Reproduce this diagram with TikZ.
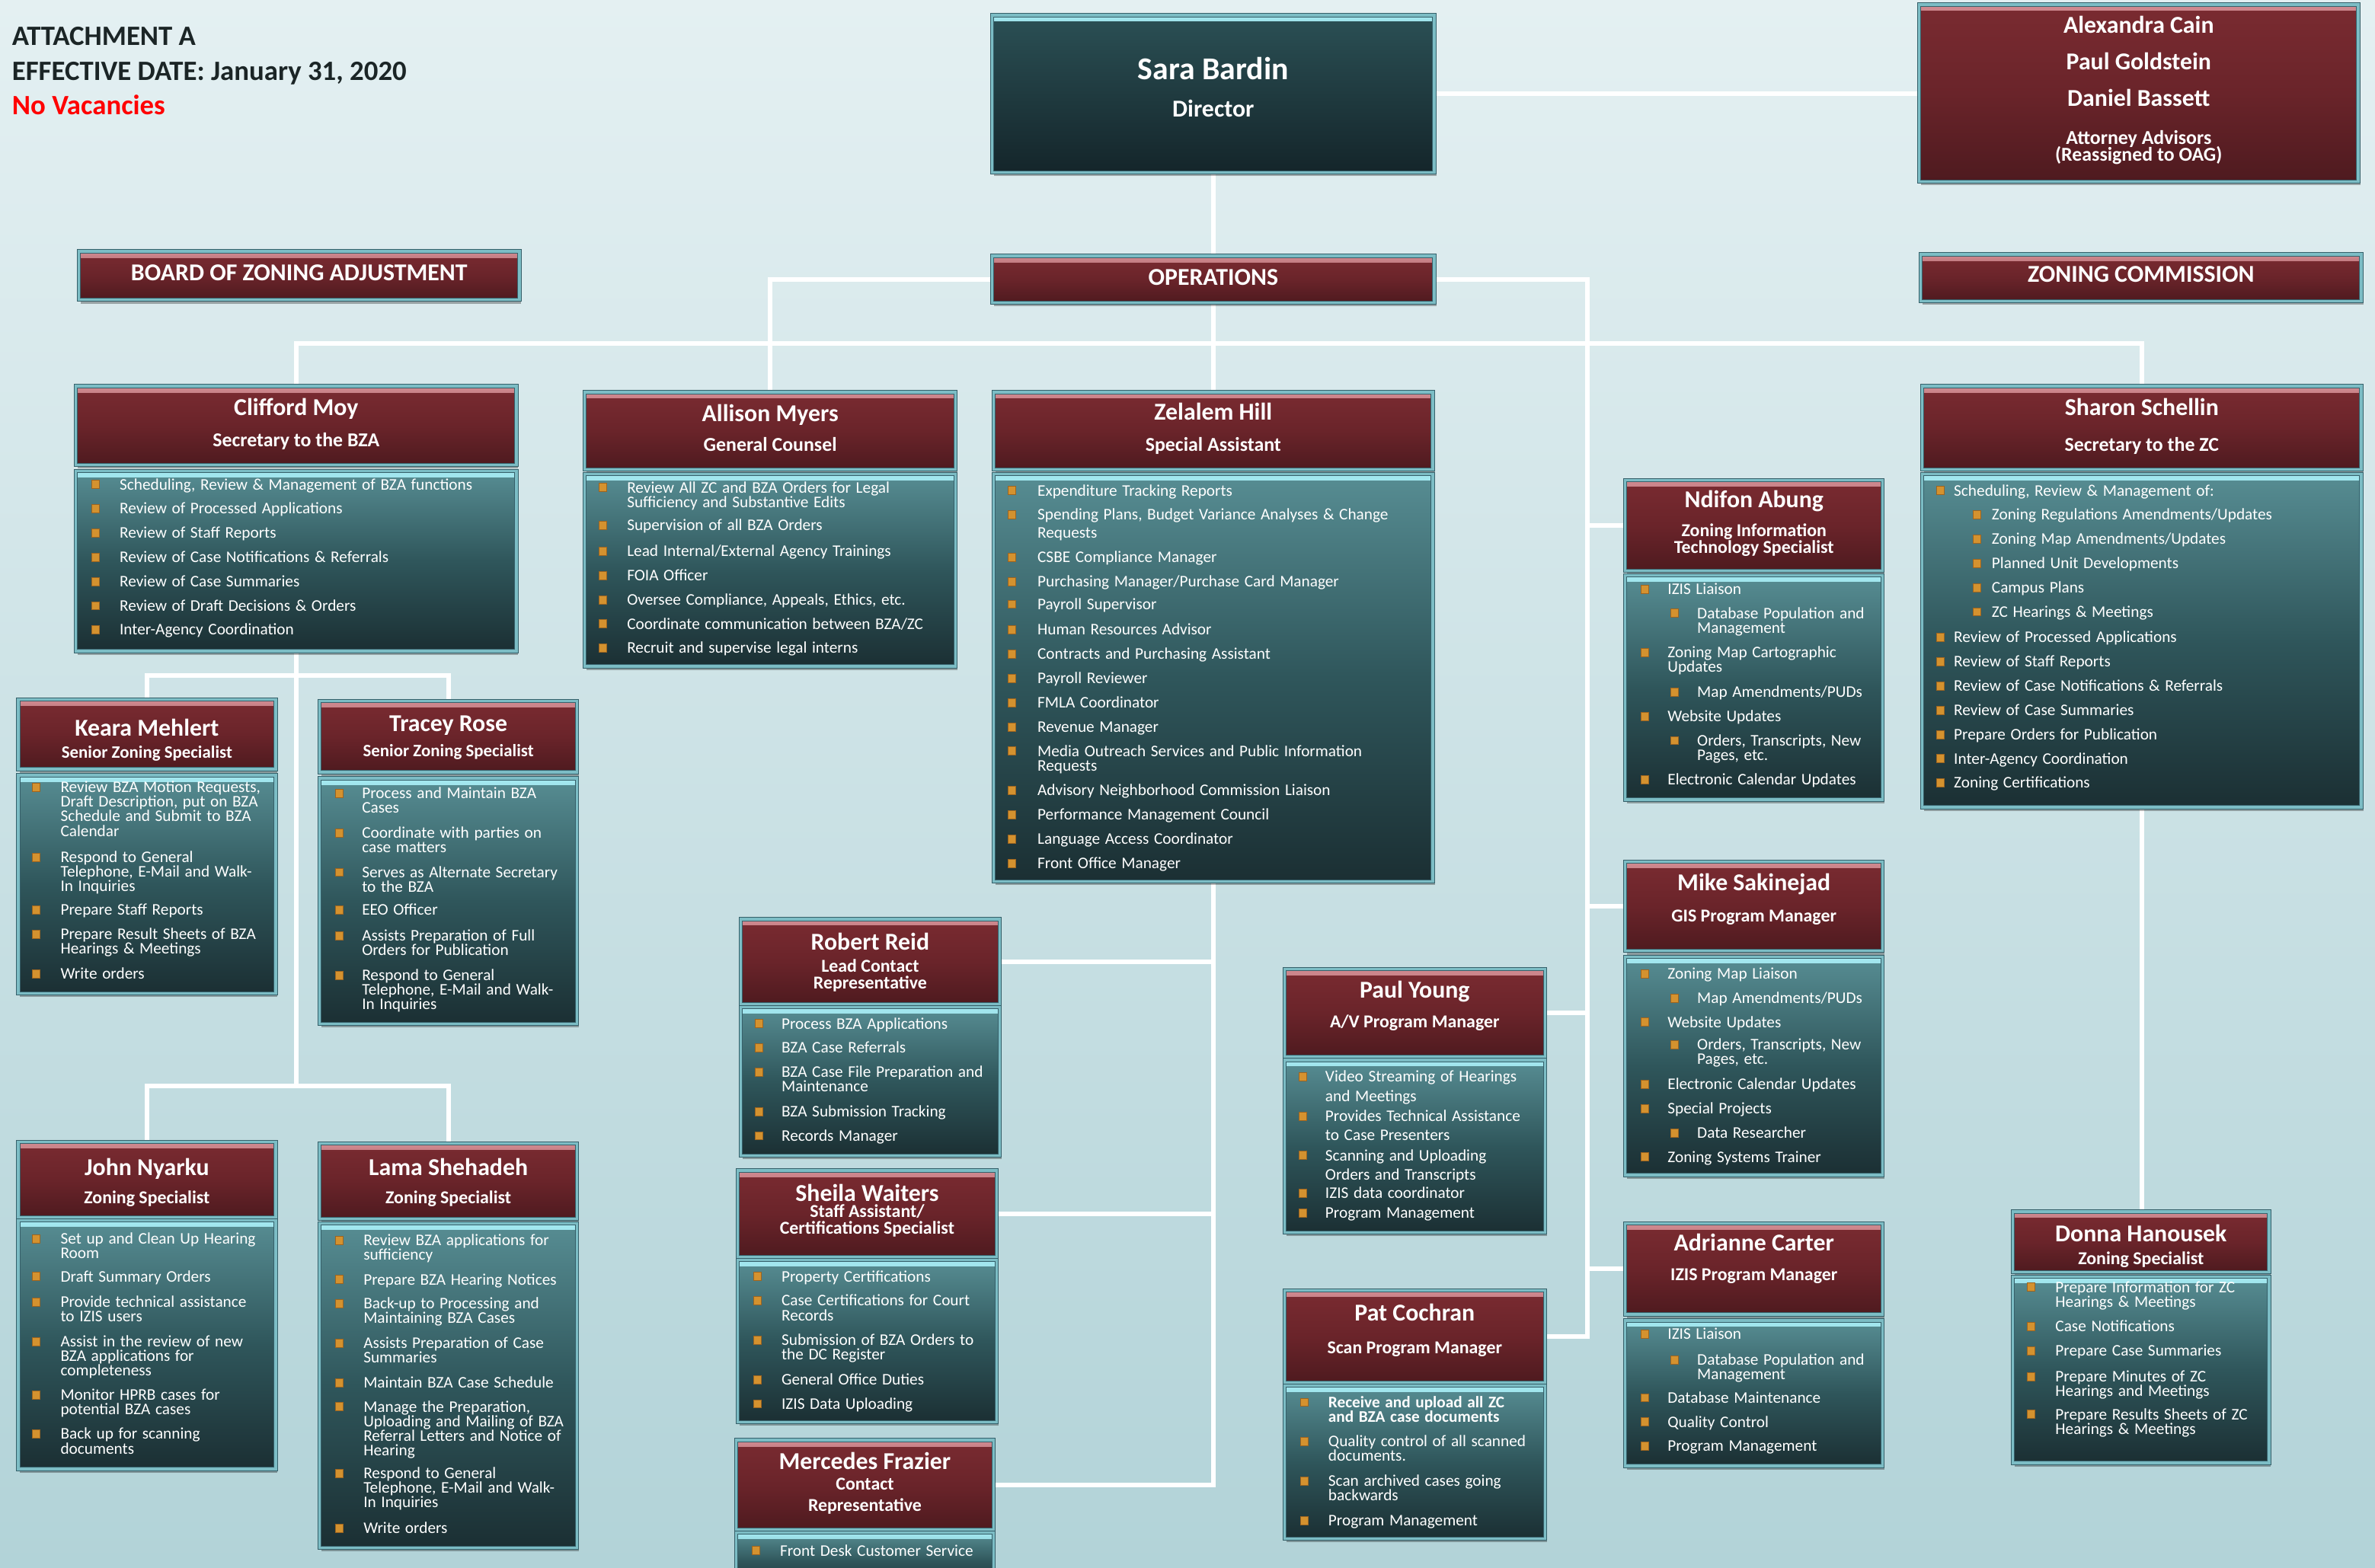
\documentclass[tikz,border=0pt]{standalone}
\usepackage{fontspec}
\setmainfont{Carlito}
\usetikzlibrary{shadows}
\definecolor{bgtop}{HTML}{E4F0F2}
\definecolor{bgbot}{HTML}{B2D3D8}
\definecolor{mtop}{HTML}{7A2B31}
\definecolor{mmid}{HTML}{6A242A}
\definecolor{mbot}{HTML}{4E1A1F}
\definecolor{mhl}{HTML}{D08A90}
\definecolor{ttop}{HTML}{578D93}
\definecolor{tmid}{HTML}{2F565B}
\definecolor{tbot}{HTML}{1B2F33}
\definecolor{thl}{HTML}{A3E8F0}
\definecolor{dtop}{HTML}{2B5055}
\definecolor{dbot}{HTML}{14252A}
\definecolor{edgedark}{HTML}{36606A}
\definecolor{edgelight}{HTML}{7CBDC5}
\definecolor{bulc}{HTML}{D4922F}
\definecolor{bulcd}{HTML}{9C6420}
\definecolor{titlec}{HTML}{1B2526}
\definecolor{novac}{HTML}{FF0000}
\pgfdeclarelayer{back}
\pgfdeclarelayer{lines}
\pgfsetlayers{back,lines,main}
\newcounter{ic}
\newcounter{tc}
\newcommand\icBx{0}\newcommand\icTx{0}\newcommand\isBx{0}\newcommand\isTx{0}
\newcommand\cols[4]{\renewcommand\icBx{#1}\renewcommand\icTx{#2}\renewcommand\isBx{#3}\renewcommand\isTx{#4}}
\newcommand\bi[3][9.6]{\stepcounter{ic}%
 \node[bul] (bu\arabic{ic}) at (\icBx,#2) {};%
 \node[itm] (it\arabic{ic}) at (\icTx,{#2-4.1}) {\fontsize{10.7}{#1}\selectfont\lineskiplimit=-20pt\relax\noindent\rule{0pt}{7.5pt}#3\par};}
\newcommand\bs[3][9.6]{\stepcounter{ic}%
 \node[bul] (bu\arabic{ic}) at (\isBx,#2) {};%
 \node[itm] (it\arabic{ic}) at (\isTx,{#2-4.1}) {\fontsize{10.7}{#1}\selectfont\lineskiplimit=-20pt\relax\noindent\rule{0pt}{7.5pt}#3\par};}
\newcommand\tx[5][]{\stepcounter{tc}\node[txt,font=\fontsize{#2}{#2}\selectfont\bfseries,#1] (tx\arabic{tc}) at (#3,{#4+0.32*#2}) {#5};}
\newcommand\boxat[6]{\node[#2,minimum width={#5-#3},minimum height={#6-#4}] (#1) at ({(#3+#5)/2},{(#4+#6)/2}) {};}
\tikzset{
  boxbase/.style={rectangle, inner sep=0pt, outer sep=0pt, draw=edgedark, line width=0.5pt,
    double=edgelight, double distance=1.7pt,
    drop shadow={shadow xshift=1.2pt, shadow yshift=-2.4pt, opacity=0.3, fill=black}},
  headbox/.style={boxbase, top color=mtop, bottom color=mbot, middle color=mmid,
    path picture={\shade[top color=mhl, bottom color=mtop] (path picture bounding box.north west) rectangle ([yshift=-4pt]path picture bounding box.north east);}},
  bodybox/.style={boxbase, top color=ttop, bottom color=tbot, middle color=tmid,
    path picture={\shade[top color=thl, bottom color=ttop] (path picture bounding box.north west) rectangle ([yshift=-4pt]path picture bounding box.north east);}},
  dirbox/.style={boxbase, top color=dtop, bottom color=dbot,
    path picture={\shade[top color=thl, bottom color=dtop] (path picture bounding box.north west) rectangle ([yshift=-4pt]path picture bounding box.north east);}},
  bul/.style={rectangle, inner sep=0pt, outer sep=0pt, minimum width=5pt, minimum height=5.5pt, fill=bulc, draw=bulcd, line width=0.4pt},
  itm/.style={anchor=north west, inner sep=0pt, outer sep=0pt, text=white, align=left, text width=250pt},
  txt/.style={anchor=base, inner sep=0pt, outer sep=0pt, text=white},
  conn/.style={draw=white, line width=3pt},
}
\begin{document}
\begin{tikzpicture}[x=1pt,y=-1pt]
\useasboundingbox (0,0) rectangle (1568,1035.44);
\begin{pgfonlayer}{back}
\shade[top color=bgtop, bottom color=bgbot] (0,0) rectangle (1568,1035.44);
\end{pgfonlayer}

% title block
\tx[anchor=base west,text=titlec]{18.5}{8}{24}{ATTACHMENT A}
\tx[anchor=base west,text=titlec]{18.5}{8}{47}{EFFECTIVE DATE: January 31, 2020}
\tx[anchor=base west,text=novac]{18.5}{8}{70}{No Vacancies}

% director and attorneys
\boxat{dir}{dirbox}{655}{10}{947}{114}
\tx{21}{801}{46}{Sara Bardin}
\tx{16}{801}{72}{Director}
\boxat{att}{headbox}{1267}{3}{1557}{120}
\tx{16}{1412}{17}{Alexandra Cain}
\tx{16}{1412}{41}{Paul Goldstein}
\tx{16}{1412}{65}{Daniel Bassett}
\tx{13}{1412}{91}{Attorney Advisors}
\tx{13}{1412}{102}{(Reassigned to OAG)}

% section bars
\boxat{bza}{headbox}{52}{166}{343}{198}
\tx{16}{197.5}{180}{BOARD OF ZONING ADJUSTMENT}
\boxat{ops}{headbox}{655}{169}{947}{200}
\tx{16}{801}{183}{OPERATIONS}
\boxat{zc}{headbox}{1268}{168}{1559}{199}
\tx{16}{1413.5}{181}{ZONING COMMISSION}

% Clifford Moy
\boxat{cmH}{headbox}{50}{255}{341}{307}
\boxat{cmB}{bodybox}{50}{311}{341}{430}
\tx{16}{195.5}{269}{Clifford Moy}
\tx{13}{195.5}{291}{Secretary to the BZA}
\cols{63}{79}{0}{0}
\bi{320}{Scheduling, Review \& Management of BZA functions}
\bi{336}{Review of Processed Applications}
\bi{352}{Review of Staff Reports}
\bi{368}{Review of Case Notifications \& Referrals}
\bi{384}{Review of Case Summaries}
\bi{400}{Review of Draft Decisions \& Orders}
\bi{416}{Inter-Agency Coordination}

% Allison Myers
\boxat{amH}{headbox}{386}{259}{631}{310}
\boxat{amB}{bodybox}{386}{313}{631}{440}
\tx{16}{508.5}{273}{Allison Myers}
\tx{13}{508.5}{294}{General Counsel}
\cols{398}{414}{0}{0}
\bi{322}{Review All ZC and BZA Orders for Legal\\Sufficiency and Substantive Edits}
\bi{347}{Supervision of all BZA Orders}
\bi{364}{Lead Internal/External Agency Trainings}
\bi{380}{FOIA Officer}
\bi{396}{Oversee Compliance, Appeals, Ethics, etc.}
\bi{412}{Coordinate communication between BZA/ZC}
\bi{428}{Recruit and supervise legal interns}

% Zelalem Hill
\boxat{zhH}{headbox}{656}{259}{946}{310}
\boxat{zhB}{bodybox}{656}{313}{946}{582}
\tx{16}{801}{272}{Zelalem Hill}
\tx{13}{801}{294}{Special Assistant}
\cols{668}{685}{0}{0}
\bi{324}{Expenditure Tracking Reports}
\bi[12]{340}{Spending Plans, Budget Variance Analyses \& Change\\Requests}
\bi{368}{CSBE Compliance Manager}
\bi{384}{Purchasing Manager/Purchase Card Manager}
\bi{399}{Payroll Supervisor}
\bi{416}{Human Resources Advisor}
\bi{432}{Contracts and Purchasing Assistant}
\bi{448}{Payroll Reviewer}
\bi{464}{FMLA Coordinator}
\bi{480}{Revenue Manager}
\bi[10]{496}{Media Outreach Services and Public Information\\Requests}
\bi{522}{Advisory Neighborhood Commission Liaison}
\bi{538}{Performance Management Council}
\bi{554}{Language Access Coordinator}
\bi{570}{Front Office Manager}

% Sharon Schellin
\boxat{ssH}{headbox}{1269}{255}{1559}{310}
\boxat{ssB}{bodybox}{1269}{313}{1559}{533}
\tx{16}{1414}{269}{Sharon Schellin}
\tx{13}{1414}{294}{Secretary to the ZC}
\cols{1281}{1290}{1305}{1315}
\bi{324}{Scheduling, Review \& Management of:}
\bs{340}{Zoning Regulations Amendments/Updates}
\bs{356}{Zoning Map Amendments/Updates}
\bs{372}{Planned Unit Developments}
\bs{388}{Campus Plans}
\bs{404}{ZC Hearings \& Meetings}
\bi{421}{Review of Processed Applications}
\bi{437}{Review of Staff Reports}
\bi{453}{Review of Case Notifications \& Referrals}
\bi{469}{Review of Case Summaries}
\bi{485}{Prepare Orders for Publication}
\bi{501}{Inter-Agency Coordination}
\bi{517}{Zoning Certifications}

% Ndifon Abung
\boxat{naH}{headbox}{1073}{317}{1243}{377}
\boxat{naB}{bodybox}{1073}{380}{1243}{528}
\tx{16}{1158}{330}{Ndifon Abung}
\tx{12}{1158}{350.5}{Zoning Information}
\tx{12}{1158}{361.5}{Technology Specialist}
\cols{1086}{1101}{1105.5}{1120.5}
\bi{389}{IZIS Liaison}
\bs{405}{Database Population and\\Management}
\bi{431}{Zoning Map Cartographic\\Updates}
\bs{457}{Map Amendments/PUDs}
\bi{473}{Website Updates}
\bs{489}{Orders, Transcripts, New\\Pages, etc.}
\bi{515}{Electronic Calendar Updates}

% Mike Sakinejad
\boxat{msH}{headbox}{1073}{569}{1243}{628}
\boxat{msB}{bodybox}{1073}{632}{1243}{776}
\tx{16}{1158}{583}{Mike Sakinejad}
\tx{12}{1158}{605}{GIS Program Manager}
\bi{643}{Zoning Map Liaison}
\bs{659}{Map Amendments/PUDs}
\bi{675}{Website Updates}
\bs{690}{Orders, Transcripts, New\\Pages, etc.}
\bi{716}{Electronic Calendar Updates}
\bi{732}{Special Projects}
\bs{748}{Data Researcher}
\bi{764}{Zoning Systems Trainer}

% Adrianne Carter
\boxat{acH}{headbox}{1073}{808}{1243}{868}
\boxat{acB}{bodybox}{1073}{872}{1243}{968}
\tx{16}{1158}{821}{Adrianne Carter}
\tx{12}{1158}{842}{IZIS Program Manager}
\bi{881}{IZIS Liaison}
\bs{898}{Database Population and\\Management}
\bi{923}{Database Maintenance}
\bi{939}{Quality Control}
\bi{955}{Program Management}

% Donna Hanousek
\boxat{dhH}{headbox}{1329}{800}{1498}{840}
\boxat{dhB}{bodybox}{1329}{843}{1498}{966}
\tx{16}{1413.5}{815}{Donna Hanousek}
\tx{12}{1413.5}{831}{Zoning Specialist}
\cols{1341}{1357}{0}{0}
\bi{850}{Prepare Information for ZC\\Hearings \& Meetings}
\bi{876}{Case Notifications}
\bi{892}{Prepare Case Summaries}
\bi{909}{Prepare Minutes of ZC\\Hearings and Meetings}
\bi{934}{Prepare Results Sheets of ZC\\Hearings \& Meetings}

% Paul Young
\boxat{pyH}{headbox}{848}{640}{1020}{698}
\boxat{pyB}{bodybox}{848}{700}{1020}{814}
\tx{16}{934}{654}{Paul Young}
\tx{12}{934}{675}{A/V Program Manager}
\cols{860}{875}{0}{0}
\bi[12.9]{711}{Video Streaming of Hearings\\and Meetings}
\bi[12.9]{737}{Provides Technical Assistance\\to Case Presenters}
\bi[12.9]{763}{Scanning and Uploading\\Orders and Transcripts}
\bi{788}{IZIS data coordinator}
\bi{801}{Program Management}

% Pat Cochran
\boxat{pcH}{headbox}{848}{852}{1020}{913}
\boxat{pcB}{bodybox}{848}{915}{1020}{1016}
\tx{16}{934}{867}{Pat Cochran}
\tx{12}{934}{890}{Scan Program Manager}
\cols{861}{877}{0}{0}
\bi{926}{\bfseries Receive and upload all ZC\\and BZA case documents}
\bi{952}{Quality control of all scanned\\documents.}
\bi{978}{Scan archived cases going\\backwards}
\bi{1004}{Program Management}

% Robert Reid
\boxat{rrH}{headbox}{489}{607}{660}{663}
\boxat{rrB}{bodybox}{489}{665}{660}{763}
\tx{16}{574.5}{622}{Robert Reid}
\tx{12}{574.5}{638}{Lead Contact}
\tx{12}{574.5}{649}{Representative}
\cols{501}{516}{0}{0}
\bi{676}{Process BZA Applications}
\bi{692}{BZA Case Referrals}
\bi{708}{BZA Case File Preparation and\\Maintenance}
\bi{734}{BZA Submission Tracking}
\bi{750}{Records Manager}

% Sheila Waiters
\boxat{swH}{headbox}{487}{773}{658}{830}
\boxat{swB}{bodybox}{487}{832}{658}{939}
\tx{16}{572.5}{788}{Sheila Waiters}
\tx{12}{572.5}{800}{Staff Assistant/}
\tx{12}{572.5}{811}{Certifications Specialist}
\cols{500}{516}{0}{0}
\bi{843}{Property Certifications}
\bi{859}{Case Certifications for Court\\Records}
\bi{885}{Submission of BZA Orders to\\the DC Register}
\bi{911}{General Office Duties}
\bi{927}{IZIS Data Uploading}

% Mercedes Frazier
\boxat{mfH}{headbox}{486}{951}{656}{1010}
\boxat{mfB}{bodybox}{486}{1012}{656}{1050}
\tx{16}{571}{965}{Mercedes Frazier}
\tx{12}{571}{980}{Contact}
\tx{12}{571}{994}{Representative}
\cols{499}{515}{0}{0}
\bi{1024}{Front Desk Customer Service}

% Keara Mehlert
\boxat{kmH}{headbox}{12}{462}{182}{508}
\boxat{kmB}{bodybox}{12}{512}{182}{656}
\tx{16}{97}{481}{Keara Mehlert}
\tx{11.5}{97}{497}{Senior Zoning Specialist}
\cols{24}{40}{0}{0}
\bi{520}{Review BZA Motion Requests,\\Draft Description, put on BZA\\Schedule and Submit to BZA\\Calendar}
\bi{566}{Respond to General\\Telephone, E-Mail and Walk-\\In Inquiries}
\bi{601}{Prepare Staff Reports}
\bi{617}{Prepare Result Sheets of BZA\\Hearings \& Meetings}
\bi{643}{Write orders}

% Tracey Rose
\boxat{trH}{headbox}{211}{463}{381}{510}
\boxat{trB}{bodybox}{211}{514}{381}{676}
\tx{16}{296}{478}{Tracey Rose}
\tx{11.5}{296}{496}{Senior Zoning Specialist}
\cols{224}{239}{0}{0}
\bi{524}{Process and Maintain BZA\\Cases}
\bi{550}{Coordinate with parties on\\case matters}
\bi{576}{Serves as Alternate Secretary\\to the BZA}
\bi{601}{EEO Officer}
\bi{618}{Assists Preparation of Full\\Orders for Publication}
\bi{644}{Respond to General\\Telephone, E-Mail and Walk-\\In Inquiries}

% John Nyarku
\boxat{jnH}{headbox}{12}{754}{182}{804}
\boxat{jnB}{bodybox}{12}{806}{182}{970}
\tx{16}{97}{771}{John Nyarku}
\tx{12}{97}{791}{Zoning Specialist}
\cols{24}{40}{0}{0}
\bi{818}{Set up and Clean Up Hearing\\Room}
\bi{843}{Draft Summary Orders}
\bi{860}{Provide technical assistance\\to IZIS users}
\bi{886}{Assist in the review of new\\BZA applications for\\completeness}
\bi{921}{Monitor HPRB cases for\\potential BZA cases}
\bi{947}{Back up for scanning\\documents}

% Lama Shehadeh
\boxat{lsH}{headbox}{211}{755}{381}{805}
\boxat{lsB}{bodybox}{211}{808}{381}{1022}
\tx{16}{296}{771}{Lama Shehadeh}
\tx{12}{296}{791}{Zoning Specialist}
\cols{224}{240}{0}{0}
\bi{819}{Review BZA applications for\\sufficiency}
\bi{845}{Prepare BZA Hearing Notices}
\bi{861}{Back-up to Processing and\\Maintaining BZA Cases}
\bi{887}{Assists Preparation of Case\\Summaries}
\bi{913}{Maintain BZA Case Schedule}
\bi{929}{Manage the Preparation,\\Uploading and Mailing of BZA\\Referral Letters and Notice of\\Hearing}
\bi{973}{Respond to General\\Telephone, E-Mail and Walk-\\In Inquiries}
\bi{1009}{Write orders}

% connectors
\coordinate (hb) at (0,227);
\coordinate (rs) at (1048,0);
\coordinate (k1) at (0,446);
\coordinate (k2) at (0,717);
\begin{pgfonlayer}{lines}
\draw[conn] (dir.east) -- (dir.east -| att.west);
\draw[conn] (dir.south) -- (ops.north);
\draw[conn] (ops.south) -- (zhH.north);
\draw[conn] (ops.west) -| (amH.north);
\draw[conn] (cmH.north) -- (cmH.north |- hb) -- (ssH.north |- hb) -- (ssH.north);
\draw[conn] (ops.east) -- (ops.east -| rs) -- (pcH.east -| rs) -- (pcH.east);
\draw[conn] (naH.west) -- (naH.west -| rs);
\draw[conn] (msH.west) -- (msH.west -| rs);
\draw[conn] (pyH.east) -- (pyH.east -| rs);
\draw[conn] (acH.west) -- (acH.west -| rs);
\draw[conn] (zhB.south) -- (zhB.south |- mfH.east) -- (mfH.east);
\draw[conn] (rrH.east) -- (rrH.east -| zhB.south);
\draw[conn] (swH.east) -- (swH.east -| zhB.south);
\draw[conn] (cmB.south) -- (cmB.south |- k2);
\draw[conn] (kmH.north) -- (kmH.north |- k1) -- (trH.north |- k1) -- (trH.north);
\draw[conn] (jnH.north) -- (jnH.north |- k2) -- (lsH.north |- k2) -- (lsH.north);
\draw[conn] (ssB.south) -- (ssB.south |- dhH.north);
\end{pgfonlayer}
\end{tikzpicture}
\end{document}
